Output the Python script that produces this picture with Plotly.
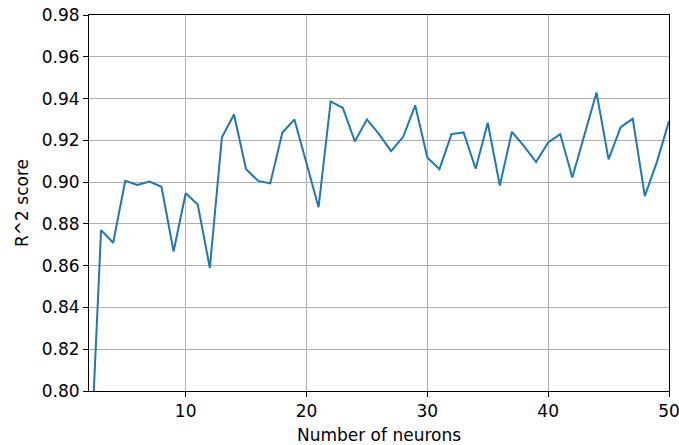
import plotly.graph_objects as go

# R^2 score of the model for each hidden-layer size
neurons = list(range(2, 51))
r2_scores = [
    0.749, 0.877, 0.871, 0.9006, 0.8986, 0.9003, 0.8978, 0.8668, 0.8947, 0.8893,
    0.8589, 0.9215, 0.9324, 0.9062, 0.9006, 0.8994, 0.9236, 0.9300, 0.9090, 0.8880,
    0.9386, 0.9356, 0.9195, 0.9300, 0.9230, 0.9148, 0.9217, 0.9367, 0.9118, 0.9062,
    0.9230, 0.9238, 0.9064, 0.9284, 0.8984, 0.9241, 0.9172, 0.9096, 0.9190, 0.9230,
    0.9022, 0.9225, 0.9429, 0.9109, 0.9263, 0.9303, 0.8933, 0.9097, 0.9292,
]
x_ticks = [10, 20, 30, 40, 50]
y_ticks = [0.80, 0.82, 0.84, 0.86, 0.88, 0.90, 0.92, 0.94, 0.96, 0.98]

FONT = dict(family="DejaVu Sans", size=17, color="black")

fig = go.Figure(
    go.Scatter(
        x=neurons,
        y=r2_scores,
        mode="lines",
        line=dict(color="#1f77b4", width=2),
        showlegend=False,
    )
)

axis_common = dict(
    showline=True,
    linecolor="black",
    linewidth=1,
    mirror=True,
    ticks="outside",
    ticklen=5,
    tickwidth=1,
    tickcolor="black",
    showgrid=True,
    gridcolor="#b0b0b0",
    gridwidth=1,
    zeroline=False,
    tickfont=FONT,
)

fig.update_xaxes(
    range=[2, 50],
    tickvals=x_ticks,
    ticklabeloverflow="allow",
    automargin=False,
    title=dict(text="Number of neurons", font=FONT),
    **axis_common,
)
fig.update_yaxes(
    range=[0.80, 0.98],
    tickvals=y_ticks,
    tickformat=".2f",
    automargin="left",
    title=dict(text="R^2 score", font=FONT, standoff=8),
    **axis_common,
)

fig.update_layout(
    width=679,
    height=445,
    margin=dict(l=89, r=10, t=15, b=54),
    paper_bgcolor="white",
    plot_bgcolor="white",
    font=FONT,
)

fig.write_html("out.html")
